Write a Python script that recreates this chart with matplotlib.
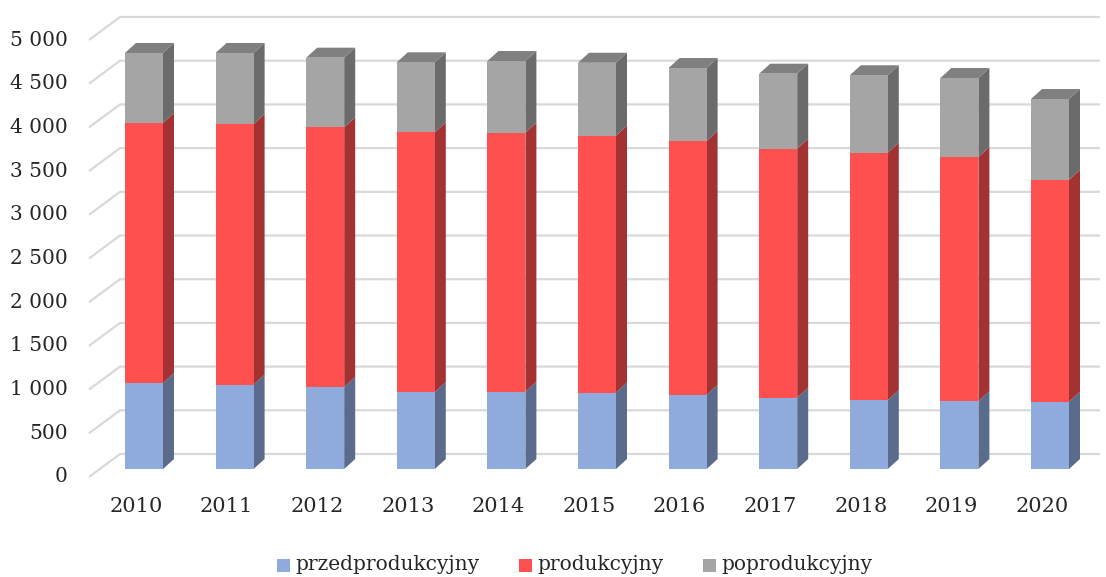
import matplotlib
matplotlib.use("Agg")
import matplotlib.pyplot as plt  # noqa: E402
from matplotlib.patches import Polygon, Rectangle  # noqa: E402
import numpy as np  # noqa: E402

# data
years = [str(y) for y in range(2010, 2021)]
przed = [984, 965, 938, 881, 885, 875, 847, 816, 789, 775, 770]
prod = [2975, 2982, 2972, 2971, 2963, 2939, 2906, 2849, 2830, 2795, 2537]
poprod = [801, 813, 796, 801, 820, 834, 835, 858, 886, 904, 926]
series_names = ["przedprodukcyjny", "produkcyjny", "poprodukcyjny"]
yticks = list(range(0, 5001, 500))

# colours: front, side, top
front_cols = ["#8FAADC", "#FF5050", "#A5A5A5"]
side_cols = ["#5A6B8C", "#A33333", "#6B6B6B"]
top_cols = ["#6F84AB", "#C63E3E", "#808080"]

# layout helpers (pixels -> data)
W, H, DPI = 1106, 577, 100
SLOT = 90.6      # px per category
X0 = 144         # px of first bar centre
PXV = 0.0874     # px per unit
BASE = 469       # px of bar base

bar_w = 38 / SLOT
ddx, ddy = 11 / SLOT, 10 / PXV          # bar depth
back_v = 15 / PXV                        # back wall offset
front_v = -8 / PXV                       # front of gridline diagonals
wall_left = (120 - X0) / SLOT
wall_front = (89 - X0) / SLOT
wall_right = (1100 - X0) / SLOT

fig = plt.figure(figsize=(W / DPI, H / DPI), dpi=DPI)
ax = fig.add_axes([0, 0, 1, 1])
ax.set_xlim(-X0 / SLOT, (W - X0) / SLOT)
ax.set_ylim((BASE - H) / PXV, BASE / PXV)
ax.axis("off")

serif = ["DejaVu Serif"]
txt_col = "#262626"
grid_col = "#D9D9D9"

# back wall gridlines + tick labels
for g in yticks:
    ax.plot([wall_front, wall_left, wall_right],
            [g + front_v, g + back_v, g + back_v],
            color=grid_col, lw=1.6, zorder=1, solid_capstyle="butt")
    lab = f"{g:,}".replace(",", " ")
    ax.text((68 - X0) / SLOT, g + front_v, lab, ha="right", va="center",
            fontsize=14.5, family=serif, color=txt_col)

x = np.arange(len(years))
stack = [przed, prod, poprod]
bottom = np.zeros(len(years))
for k, vals in enumerate(stack):
    vals = np.array(vals, dtype=float)
    ax.bar(x, vals, bar_w, bottom=bottom, color=front_cols[k],
           edgecolor="none", zorder=3)
    for i in x:
        xr = i + bar_w / 2
        xl = i - bar_w / 2
        b, t = bottom[i], bottom[i] + vals[i]
        side = Polygon([(xr, b), (xr + ddx, b + ddy), (xr + ddx, t + ddy), (xr, t)],
                       closed=True, facecolor=side_cols[k], edgecolor="none",
                       zorder=2)
        ax.add_patch(side)
        if k == len(stack) - 1:
            top = Polygon([(xl, t), (xl + ddx, t + ddy), (xr + ddx, t + ddy), (xr, t)],
                          closed=True, facecolor=top_cols[k], edgecolor="none",
                          zorder=2)
            ax.add_patch(top)
    bottom += vals

# category labels
for i, yr in enumerate(years):
    ax.text(i - 8 / SLOT, (BASE - 507) / PXV, yr, ha="center", va="center",
            fontsize=15, family=serif, color=txt_col)

# legend, laid out by hand (pixel positions of each square)
leg_x = [277, 519, 703]
leg_y = 565
for px, name, col in zip(leg_x, series_names, front_cols):
    fig.add_artist(Rectangle((px / W, (H - leg_y - 6.5) / H), 13 / W, 13 / H,
                             transform=fig.transFigure, facecolor=col,
                             edgecolor="none"))
    fig.text((px + 18) / W, (H - leg_y) / H, name, ha="left",
             va="center", fontsize=14.5, family=serif, color=txt_col)

fig.savefig("out.png", dpi=DPI)
